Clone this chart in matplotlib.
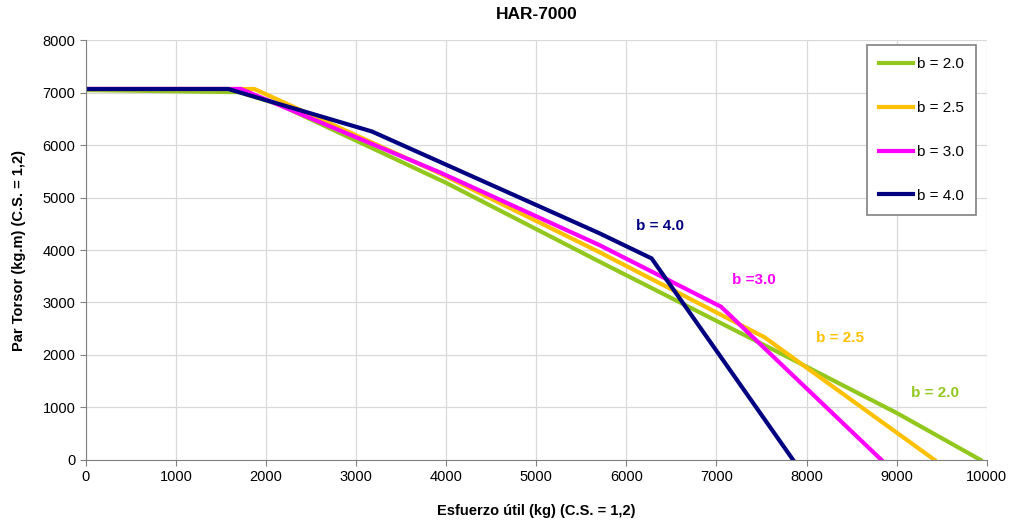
import matplotlib.pyplot as plt

plt.rcParams['font.family'] = ['Liberation Sans', 'DejaVu Sans']

# Curve data (Esfuerzo util kg, Par torsor kg.m)
x_b20 = [0, 1700, 2150, 4000, 5700, 7700, 9000, 9930]
y_b20 = [7050, 7010, 6770, 5280, 3780, 2040, 895, 0]
x_b25 = [0, 1870, 3930, 5700, 7530, 9420]
y_b25 = [7070, 7070, 5460, 3960, 2340, 0]
x_b30 = [0, 1720, 3930, 5700, 7050, 8830]
y_b30 = [7070, 7070, 5480, 4095, 2920, 0]
x_b40 = [0, 1580, 3175, 5700, 6280, 7850]
y_b40 = [7070, 7070, 6260, 4320, 3840, 0]

labels = ["b = 2.0", "b = 2.5", "b = 3.0", "b = 4.0"]
colors = ["#92c81e", "#ffc000", "#ff00ff", "#000080"]
ann_text = ["b = 2.0", "b = 2.5", "b =3.0", "b = 4.0"]
ann_x = [9420, 8370, 7420, 6370]
ann_y = [1280, 2320, 3430, 4460]

fig = plt.figure(figsize=(10.1, 5.22), dpi=100)
ax = fig.add_axes([0.085, 0.119, 0.892, 0.804])

xs = [x_b20, x_b25, x_b30, x_b40]
ys = [y_b20, y_b25, y_b30, y_b40]
for x, y, lab, c in zip(xs, ys, labels, colors):
    ax.plot(x, y, color=c, lw=3, label=lab, solid_joinstyle='miter')

for t, x, y, c in zip(ann_text, ann_x, ann_y, colors):
    ax.text(x, y, t, color=c, fontsize=11, fontweight='bold', ha='center', va='center')

ax.set_xlim(0, 10000)
ax.set_ylim(0, 8000)
ax.set_xticks(range(0, 10001, 1000))
ax.set_yticks(range(0, 8001, 1000))
ax.grid(True, color='#d9d9d9', lw=0.9)
ax.set_axisbelow(True)
for s in ['top', 'right']:
    ax.spines[s].set_visible(False)
for s in ['left', 'bottom']:
    ax.spines[s].set_color('#808080')
ax.tick_params(labelsize=10.5, color='#808080', length=4)

ax.set_title("HAR-7000", fontsize=12.5, fontweight='bold', pad=15)
ax.set_xlabel("Esfuerzo útil (kg) (C.S. = 1,2)", fontsize=10.5, fontweight='bold', labelpad=14)
ax.set_ylabel("Par Torsor (kg.m) (C.S. = 1,2)", fontsize=10.5, fontweight='bold', labelpad=12)

leg = ax.legend(loc='upper right', bbox_to_anchor=(0.988, 0.988), borderaxespad=0,
                fontsize=11, labelspacing=1.95, handlelength=2.2,
                handletextpad=0.25, borderpad=0.8, fancybox=False,
                edgecolor='#808080', framealpha=1)
leg.get_frame().set_linewidth(1.2)

fig.savefig("out.png", dpi=100)
